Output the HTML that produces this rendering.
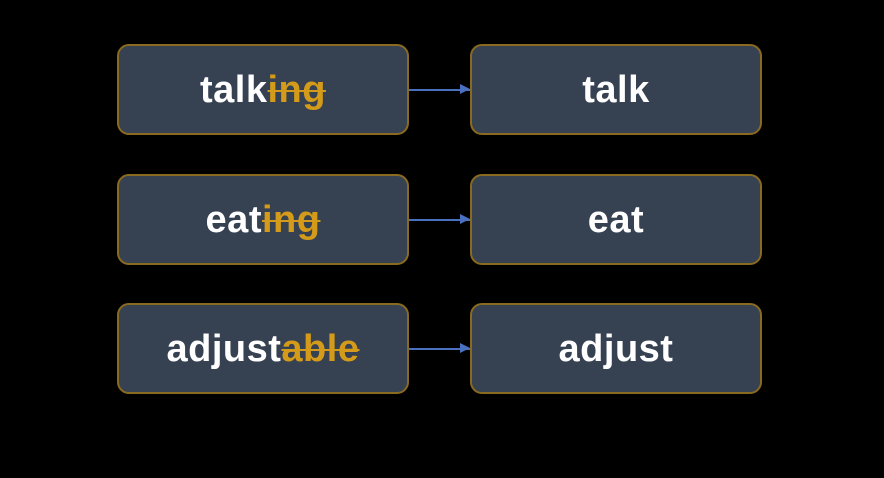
<!DOCTYPE html>
<html><head><style>
body{margin:0;width:884px;height:478px;background:#000;position:relative;overflow:hidden;font-family:"Liberation Sans",sans-serif}
.b{position:absolute;width:292px;height:91px;background:#364152;border:2px solid #8a6a1e;border-radius:12px;box-sizing:border-box;color:#fff;font-size:38px;font-weight:bold;display:flex;align-items:center;justify-content:center;letter-spacing:0.5px;padding-top:2px}
.s{color:#d49b1a;text-decoration:line-through;text-decoration-thickness:2px}
.a{position:absolute;left:409px;width:61px;height:1.5px;background:#4a70c0}
.a:after{content:"";position:absolute;right:0;top:-5px;border-left:10px solid #4a70c0;border-top:5.5px solid transparent;border-bottom:5.5px solid transparent}
</style></head><body>
<div class="b" style="left:117px;top:44px">talk<span class="s">ing</span></div>
<div class="b" style="left:470px;top:44px">talk</div>
<div class="a" style="top:89px"></div>
<div class="b" style="left:117px;top:174px">eat<span class="s">ing</span></div>
<div class="b" style="left:470px;top:174px">eat</div>
<div class="a" style="top:219px"></div>
<div class="b" style="left:117px;top:303px">adjust<span class="s">able</span></div>
<div class="b" style="left:470px;top:303px">adjust</div>
<div class="a" style="top:348px"></div>
</body></html>
